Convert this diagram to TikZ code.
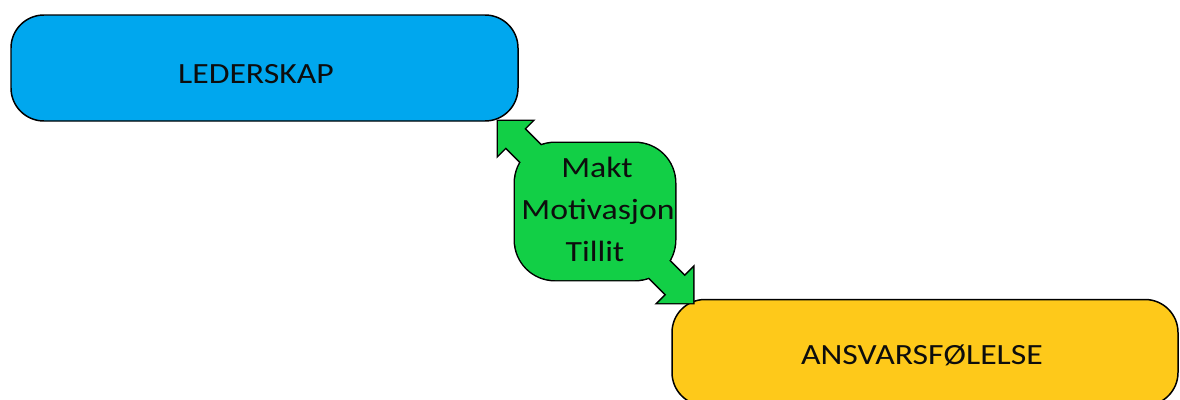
\documentclass[tikz,border=0pt]{standalone}
\usepackage{fontspec}
\setmainfont{Carlito}
\definecolor{leadblue}{RGB}{0,167,238}
\definecolor{dutyyellow}{RGB}{254,201,26}
\definecolor{linkgreen}{RGB}{18,207,70}
\newcommand{\widelabel}[1]{\scalebox{1.15}[1]{#1}}
% outline of the double-arrow callout: body, two shafts, two heads
\newcommand{\calloutparts}[1]{%
  \path[#1, rounded corners=0.8cm] (515,143) rectangle (675,280);
  \path[#1] (521.2,125.8) -- (566.2,170.8) -- (547.8,189.2) -- (502.8,144.2) -- cycle;
  \path[#1] (498,121) -- (532,121) -- (498,155) -- cycle;
  \path[#1] (687.7,279.3) -- (642.7,234.3) -- (624.3,252.7) -- (669.3,297.7) -- cycle;
  \path[#1] (693,303) -- (693,268) -- (658,303) -- cycle;
}
\begin{document}
\begin{tikzpicture}[x=0.02cm, y=-0.02cm,
  pill/.style={draw=black, line width=0.85pt, rounded corners=0.66cm},
  lbl/.style={font=\fontsize{16.7}{20}\selectfont, text=black!95, inner sep=0pt, anchor=base},
  rim/.style={draw=black, line width=1.7pt, line join=miter},
  skin/.style={fill=linkgreen},
]
\useasboundingbox (0,0) rectangle (1180,399);
\clip (0,0) rectangle (1180,399);

% the two rounded boxes
\path[pill, fill=leadblue] (11,15) rectangle (518,121);
\path[pill, fill=dutyyellow] (672,299.5) rectangle (1178,405.5);
\node[lbl] (leder) at (256,83) {\widelabel{LEDERSKAP}};
\node[lbl] (ansvar) at (922,364) {\widelabel{ANSVARSFØLELSE}};

% green callout: wide black strokes first, then the fill covers their inner half
\calloutparts{rim}
\calloutparts{skin}

\node[lbl] (makt) at (597,177) {\widelabel{Makt}};
\node[lbl] (motiv) at (598,219) {\widelabel{Motivasjon}};
\node[lbl] (tillit) at (595,261) {\widelabel{Tillit}};
\end{tikzpicture}
\end{document}
